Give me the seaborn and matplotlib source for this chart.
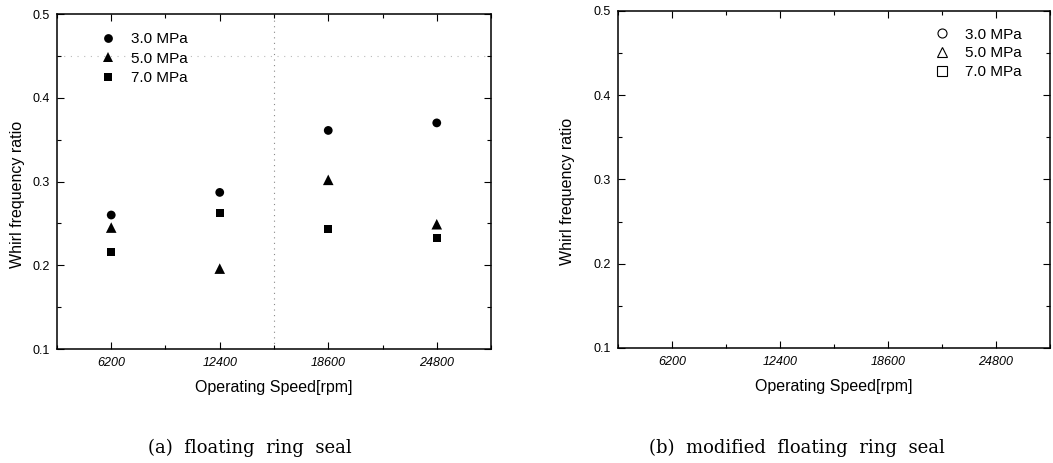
import pandas as pd
import matplotlib
matplotlib.use('Agg')
import matplotlib.pyplot as plt
from matplotlib.lines import Line2D
from matplotlib.ticker import MultipleLocator, FixedLocator
import seaborn as sns

# data
speeds = [6200, 12400, 18600, 24800]
pressures = ['3.0 MPa', '5.0 MPa', '7.0 MPa']
ratio_3mpa = [0.260, 0.287, 0.361, 0.370]
ratio_5mpa = [0.245, 0.196, 0.302, 0.249]
ratio_7mpa = [0.216, 0.262, 0.243, 0.233]
x_ticks = [6200, 12400, 18600, 24800]
y_ticks = [0.1, 0.2, 0.3, 0.4, 0.5]
captions = ['(a)  floating  ring  seal', '(b)  modified  floating  ring  seal']

df = pd.DataFrame({
    'speed': speeds * 3,
    'ratio': ratio_3mpa + ratio_5mpa + ratio_7mpa,
    'pressure': [p for p in pressures for _ in speeds],
})

sns.set_style('ticks')
plt.rcParams['font.family'] = ['Liberation Sans', 'DejaVu Sans']
plt.rcParams['text.color'] = 'black'
plt.rcParams['axes.labelcolor'] = 'black'
plt.rcParams['xtick.color'] = 'black'
plt.rcParams['ytick.color'] = 'black'

fig = plt.figure(figsize=(10.53, 4.63), dpi=100)
ax1 = fig.add_axes([0.0541, 0.2462, 0.4122, 0.7235])
ax2 = fig.add_axes([0.5869, 0.2484, 0.4103, 0.7279])

marker_map = {'3.0 MPa': 'o', '5.0 MPa': '^', '7.0 MPa': 's'}
size_map = {'3.0 MPa': 40, '5.0 MPa': 58, '7.0 MPa': 32}

# (a) floating ring seal
sns.scatterplot(data=df, x='speed', y='ratio', style='pressure', markers=marker_map,
                size='pressure', sizes=size_map,
                color='black', edgecolor='black', linewidth=0, ax=ax1)

# faint dotted guide lines seen in the scan
ax1.axvline(15500, color='#888888', lw=0.8, ls=(0, (1, 4)), zorder=0)
ax1.axhline(0.45, color='#bbbbbb', lw=0.8, ls=(0, (1, 5)), zorder=0)

handles, labels = ax1.get_legend_handles_labels()
ax1.legend(handles, labels, loc='upper left', bbox_to_anchor=(0.10, 0.945), frameon=False,
           fontsize=11, handlelength=1.0, handletextpad=1.0, labelspacing=0.35,
           borderpad=0, borderaxespad=0)

# (b) modified floating ring seal - no points in the reference
open_handles = [Line2D([], [], ls='none', marker=marker_map[p], markersize=6.5,
                       markerfacecolor='white', markeredgecolor='black', markeredgewidth=0.8)
                for p in pressures]
ax2.legend(open_handles, pressures, loc='upper right', bbox_to_anchor=(0.935, 0.95),
           frameon=False, fontsize=11, handlelength=1.0, handletextpad=1.0,
           labelspacing=0.3, borderpad=0, borderaxespad=0)

for ax, ycoord, lab_x in [(ax1, 0.46, -0.074), (ax2, 0.464, -0.10)]:
    ax.set_xlim(3100, 27900)
    ax.set_ylim(0.1, 0.5)
    ax.xaxis.set_major_locator(FixedLocator(x_ticks))
    ax.xaxis.set_minor_locator(MultipleLocator(3100))
    ax.yaxis.set_major_locator(FixedLocator(y_ticks))
    ax.yaxis.set_minor_locator(MultipleLocator(0.05))
    ax.set_xticklabels([str(v) for v in x_ticks], fontsize=9, style='italic')
    ax.set_yticklabels([f'{v:.1f}' for v in y_ticks], fontsize=9)
    ax.tick_params(which='both', direction='in', top=True, right=True, color='black', width=0.8)
    ax.tick_params(which='major', length=5)
    ax.tick_params(which='minor', length=3)
    ax.tick_params(axis='y', pad=5)
    ax.tick_params(axis='x', pad=6)
    for sp in ax.spines.values():
        sp.set_linewidth(1.1)
        sp.set_color('black')
    ax.set_xlabel('Operating Speed[rpm]', fontsize=11.5, labelpad=8)
    ax.set_ylabel('Whirl frequency ratio', fontsize=11.5)
    ax.yaxis.set_label_coords(lab_x, ycoord)

fig.text(0.237, 0.022, captions[0], ha='center', va='baseline', fontsize=13,
         family=['DejaVu Serif'])
fig.text(0.757, 0.022, captions[1], ha='center', va='baseline', fontsize=13,
         family=['DejaVu Serif'])

fig.savefig('out.png', dpi=100)
